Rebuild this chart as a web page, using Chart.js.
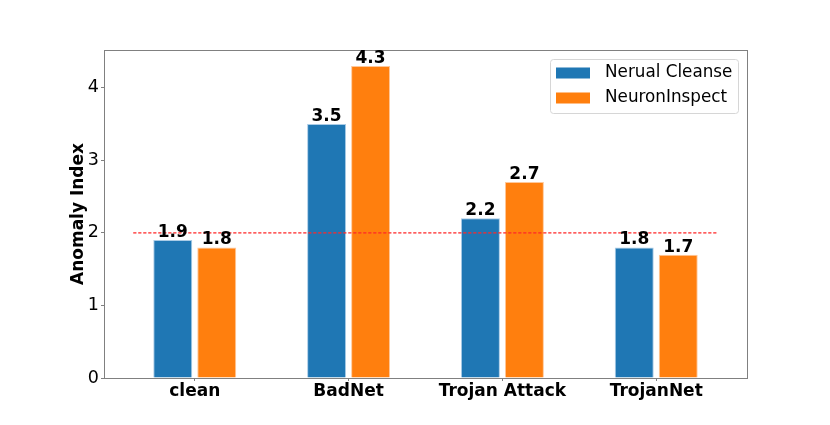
<!DOCTYPE html>
<html>
<head>
<meta charset="utf-8">
<script src="https://cdn.jsdelivr.net/npm/chart.js@4/dist/chart.umd.min.js"></script>
<style>
  html, body { margin: 0; padding: 0; background: #fff; }
  #wrap { width: 830px; height: 425px; }
</style>
</head>
<body>
<div id="wrap"><canvas id="chart"></canvas></div>
<script>
// ── Data ──
const categories = ['clean', 'BadNet', 'Trojan Attack', 'TrojanNet'];
const seriesNames = ['Nerual Cleanse', 'NeuronInspect'];
const neuralCleanse = [1.9, 3.5, 2.2, 1.8];
const neuronInspect = [1.8, 4.3, 2.7, 1.7];
const yTicks = [0, 1, 2, 3, 4];
const threshold = 2;

const FONT = "'DejaVu Sans', sans-serif";
const BLUE = '#1f77b4';
const ORANGE = '#ff7f0e';
const SPINE = '#808080';

// frame box + threshold line + value labels + legend
const decorations = {
  id: 'decorations',
  beforeDatasetsDraw(chart) {
    const { ctx, chartArea: a } = chart;
    ctx.save();
    ctx.strokeStyle = SPINE;
    ctx.lineWidth = 1;
    ctx.strokeRect(a.left + 0.5, a.top + 0.5, a.right - a.left, a.bottom - a.top);
    ctx.restore();
  },
  afterDatasetsDraw(chart) {
    const { ctx, scales } = chart;
    const x = scales.x, y = scales.y;
    // threshold line (dashes as filled segments)
    ctx.save();
    ctx.fillStyle = 'rgba(255, 40, 40, 0.85)';
    const ty = y.getPixelForValue(threshold);
    const x0 = x.getPixelForValue(-0.4), x1 = x.getPixelForValue(3.4);
    for (let px = x0; px < x1; px += 5) {
      ctx.fillRect(px, ty - 0.75, Math.min(3.2, x1 - px), 1.5);
    }
    ctx.restore();

    // value labels
    ctx.save();
    ctx.font = `bold 17px ${FONT}`;
    ctx.fillStyle = '#000';
    ctx.textAlign = 'center';
    ctx.textBaseline = 'alphabetic';
    chart.data.datasets.forEach((ds, di) => {
      chart.getDatasetMeta(di).data.forEach((bar, i) => {
        ctx.fillText(ds.data[i].y.toFixed(1), bar.x, bar.y - 3);
      });
    });
    ctx.restore();

    // legend
    ctx.save();
    const lx = 550, ly = 59, lw = 188, lh = 54;
    ctx.strokeStyle = '#d6d6d6';
    ctx.fillStyle = 'rgba(255,255,255,0.8)';
    ctx.beginPath();
    ctx.roundRect(lx + 0.5, ly + 0.5, lw, lh, 3);
    ctx.fill();
    ctx.stroke();
    ctx.font = `16.8px ${FONT}`;
    ctx.textBaseline = 'middle';
    ctx.textAlign = 'left';
    chart.data.datasets.forEach((ds, di) => {
      const cy = ly + 14 + di * 25;
      ctx.fillStyle = ds.backgroundColor;
      ctx.fillRect(lx + 6, cy - 5.5, 34, 11);
      ctx.fillStyle = '#000';
      ctx.fillText(ds.label, lx + 55, cy);
    });
    ctx.restore();
  }
};

const toPoints = arr => arr.map((v, i) => ({ x: i, y: v }));

new Chart(document.getElementById('chart'), {
  type: 'bar',
  data: {
    datasets: [
      { label: seriesNames[0], data: toPoints(neuralCleanse), backgroundColor: BLUE, borderColor: '#a9cbe6', borderWidth: 1 },
      { label: seriesNames[1], data: toPoints(neuronInspect), backgroundColor: ORANGE, borderColor: '#ffc89a', borderWidth: 1 },
    ],
  },
  options: {
    responsive: true,
    maintainAspectRatio: false,
    animation: false,
    categoryPercentage: 0.572,
    barPercentage: 0.886,
    layout: { padding: { left: 0, right: 83, top: 50, bottom: 0 } },
    plugins: { legend: { display: false }, tooltip: { enabled: false } },
    scales: {
      x: {
        type: 'linear',
        min: -0.59,
        max: 3.59,
        offset: false,
        afterBuildTicks: s => { s.ticks = categories.map((c, i) => ({ value: i })); },
        afterFit: s => { s.height = 47; },
        grid: { display: true, offset: false, drawOnChartArea: false, drawTicks: true, tickLength: 3, color: SPINE },
        border: { display: true, color: SPINE },
        ticks: {
          autoSkip: false,
          maxRotation: 0,
          padding: 0,
          color: '#000',
          font: { family: FONT, size: 17, weight: 'bold' },
          callback: v => categories[v],
        },
      },
      y: {
        min: 0,
        max: 4.52,
        afterBuildTicks: s => { s.ticks = yTicks.map(v => ({ value: v })); },
        afterFit: s => { s.width = 104; },
        grid: { display: true, drawOnChartArea: false, drawTicks: true, tickLength: 3, color: SPINE },
        border: { display: true, color: SPINE },
        ticks: { padding: 2, color: '#000', font: { family: FONT, size: 17.5 } },
        title: {
          display: true,
          text: 'Anomaly Index',
          color: '#000',
          font: { family: FONT, size: 17, weight: 'bold' },
          padding: { top: 68, bottom: 0 },
        },
      },
    },
  },
  plugins: [decorations],
});
</script>
</body>
</html>
